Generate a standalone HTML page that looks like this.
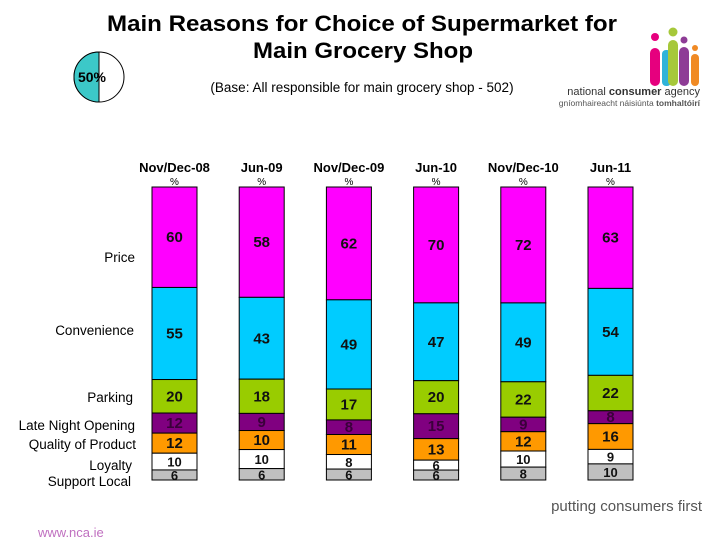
<!DOCTYPE html>
<html><head><meta charset="utf-8"><style>
body{margin:0;background:#fff;font-family:"Liberation Sans",sans-serif}
svg text{font-family:"Liberation Sans",sans-serif}
</style></head><body>
<svg id="c" width="728" height="546" xmlns="http://www.w3.org/2000/svg">
<text x="362" y="31" text-anchor="middle" font-size="22" font-weight="bold" textLength="510" lengthAdjust="spacingAndGlyphs">Main Reasons for Choice of Supermarket for</text>
<text x="363" y="58" text-anchor="middle" font-size="22" font-weight="bold" textLength="220" lengthAdjust="spacingAndGlyphs">Main Grocery Shop</text>
<text x="362" y="92" text-anchor="middle" font-size="13.5">(Base: All responsible for main grocery shop - 502)</text>
<g>
<circle cx="99" cy="77" r="25" fill="#fff" stroke="#000" stroke-width="1"/>
<path d="M99,52 A25,25 0 0,0 99,102 Z" fill="#3cc8c8" stroke="#000" stroke-width="1"/>
<text x="92" y="82" text-anchor="middle" font-size="14" font-weight="bold">50%</text>
</g>
<g>
<rect x="650" y="48" width="10" height="38" rx="5" fill="#e6007e"/><circle cx="655" cy="37" r="4" fill="#e6007e"/>
<rect x="662" y="50" width="9" height="36" rx="4" fill="#2eb3d9"/>
<rect x="668" y="40" width="10" height="46" rx="5" fill="#a6c83a"/><circle cx="673" cy="32" r="4.5" fill="#a6c83a"/>
<rect x="679" y="47" width="10" height="39" rx="5" fill="#8e3c96"/><circle cx="684" cy="40" r="3.5" fill="#8e3c96"/>
<rect x="691" y="54" width="8" height="32" rx="4" fill="#f08a24"/><circle cx="695" cy="48" r="3" fill="#f08a24"/>
<text x="700" y="95" text-anchor="end" font-size="11" fill="#333">national <tspan font-weight="bold">consumer</tspan> agency</text>
<text x="700" y="106" text-anchor="end" font-size="8.5" fill="#555">gníomhaireacht náisiúnta <tspan font-weight="bold">tomhaltóirí</tspan></text>
</g>
<text x="702" y="511" text-anchor="end" font-size="15" fill="#555">putting consumers first</text>
<text x="38" y="537" font-size="13" fill="#c070c0">www.nca.ie</text>
<g font-size="13.5" text-anchor="end">
<text x="135" y="262">Price</text>
<text x="134" y="335">Convenience</text>
<text x="133" y="402">Parking</text>
<text x="135" y="430">Late Night Opening</text>
<text x="136" y="449">Quality of Product</text>
<text x="132" y="470">Loyalty</text>
<text x="131" y="486">Support Local</text>
</g>
<g id="bars"></g>
</svg>
<script>
const periods=["Nov/Dec-08","Jun-09","Nov/Dec-09","Jun-10","Nov/Dec-10","Jun-11"];
const seriesNames=["Price","Convenience","Parking","Late Night Opening","Quality of Product","Loyalty","Support Local"];
const price=[60,58,62,70,72,63];
const convenience=[55,43,49,47,49,54];
const parking=[20,18,17,20,22,22];
const lateNight=[12,9,8,15,9,8];
const quality=[12,10,11,13,12,16];
const loyalty=[10,10,8,6,10,9];
const supportLocal=[6,6,6,6,8,10];
const series=[price,convenience,parking,lateNight,quality,loyalty,supportLocal];
const colors=["#ff00ff","#00ccff","#99cc00","#800080","#ff9900","#ffffff","#c0c0c0"];
const plotTop=187,plotBottom=480,barW=45;
function xCenter(i){return 174.5+i*87.2;}
const ns="http://www.w3.org/2000/svg";
const g=document.getElementById("bars");
periods.forEach((p,i)=>{
  const cx=xCenter(i);
  const h=document.createElementNS(ns,"text");
  h.setAttribute("x",cx);h.setAttribute("y",172);h.setAttribute("text-anchor","middle");
  h.setAttribute("font-size","13");h.setAttribute("font-weight","bold");h.textContent=p;
  
  
  g.appendChild(h);
  const pc=document.createElementNS(ns,"text");
  pc.setAttribute("x",cx);pc.setAttribute("y",185);pc.setAttribute("text-anchor","middle");
  pc.setAttribute("font-size","10");pc.textContent="%";
  
  
  g.appendChild(pc);
  let total=0;series.forEach(s=>total+=s[i]);
  let y=plotTop;
  series.forEach((s,k)=>{
    const hh=s[i]/total*(plotBottom-plotTop);
    const r=document.createElementNS(ns,"rect");
    r.setAttribute("x",cx-barW/2);r.setAttribute("y",y);r.setAttribute("width",barW);r.setAttribute("height",hh);
    r.setAttribute("fill",colors[k]);r.setAttribute("stroke","#000");r.setAttribute("stroke-width","1");
    
    
    g.appendChild(r);
    const t=document.createElementNS(ns,"text");
    t.setAttribute("x",cx);t.setAttribute("y",y+hh/2+5);t.setAttribute("text-anchor","middle");
    t.setAttribute("font-size",k>=5?"13":"15");t.setAttribute("font-weight","bold");
    t.setAttribute("fill",k===3?"#3a003a":"#111");
    t.textContent=s[i];
    
    
    g.appendChild(t);
    y+=hh;
  });
});
</script>
</body></html>
